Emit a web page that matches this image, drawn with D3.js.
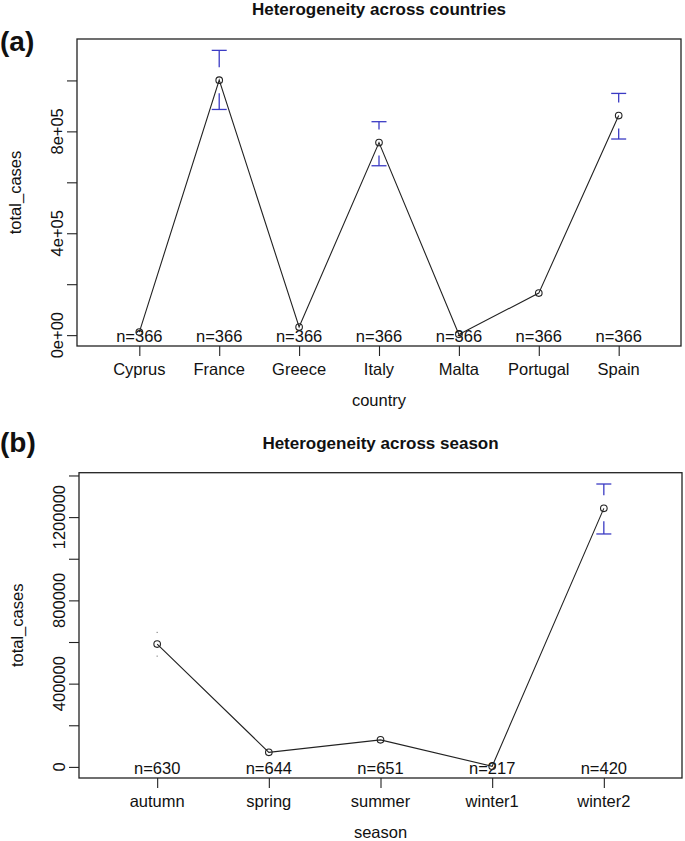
<!DOCTYPE html>
<html>
<head>
<meta charset="utf-8">
<script src="https://cdn.jsdelivr.net/npm/d3@7"></script>
<style>
  html, body { margin: 0; padding: 0; background: #fff; }
  svg { display: block; }
  text { font-family: "Liberation Sans", Arial, sans-serif; fill: #111; }
</style>
</head>
<body>
<script>
// ---------- data ----------
const countries = ["Cyprus", "France", "Greece", "Italy", "Malta", "Portugal", "Spain"];
const countryMeans = [12000, 1001000, 32000, 756000, 3000, 165000, 862000];
const countryLower = [9000, 886000, 28000, 665000, 2000, 152000, 770000];
const countryUpper = [15000, 1118000, 36000, 838000, 4000, 178000, 949000];
const countryN = [366, 366, 366, 366, 366, 366, 366];
const countryTicks = [0, 200000, 400000, 600000, 800000, 1000000];
const countryTickLabelValues = [0, 400000, 800000];
const countryTickLabels = ["0e+00", "4e+05", "8e+05"];

const seasons = ["autumn", "spring", "summer", "winter1", "winter2"];
const seasonMeans = [590000, 70000, 130000, 3000, 1242000];
const seasonLower = [532000, 64000, 122000, 1000, 1119000];
const seasonUpper = [646000, 76000, 138000, 5000, 1359000];
const seasonN = [630, 644, 651, 217, 420];
const seasonTicks = [0, 200000, 400000, 600000, 800000, 1000000, 1200000, 1400000];
const seasonTickLabelValues = [0, 400000, 800000, 1200000];
const seasonTickLabels = ["0", "400000", "800000", "1200000"];

// ---------- drawing ----------
const svg = d3.select("body").append("svg").attr("width", 685).attr("height", 841);

function panel(cfg) {
  const n = cfg.cats.length;
  const ext = 0.04 * n;
  const x = d3.scaleLinear().domain([0.5 - ext, n + 0.5 + ext]).range([cfg.left, cfg.right]);
  const ymin = d3.min(cfg.lower), ymax = d3.max(cfg.upper);
  const yext = 0.04 * (ymax - ymin);
  const y = d3.scaleLinear().domain([ymin - yext, ymax + yext]).range([cfg.bottom, cfg.top]);
  const g = svg.append("g");
  const cx = (cfg.left + cfg.right) / 2;

  // panel label & title
  g.append("text").attr("x", 0).attr("y", cfg.tagY).attr("font-size", 28).attr("font-weight", "bold").text(cfg.tag);
  g.append("text").attr("x", cx).attr("y", cfg.top - 24).attr("text-anchor", "middle")
    .attr("font-size", 17).attr("font-weight", "bold").text(cfg.title);

  // box
  g.append("rect").attr("x", cfg.left).attr("y", cfg.top)
    .attr("width", cfg.right - cfg.left).attr("height", cfg.bottom - cfg.top)
    .attr("fill", "none").attr("stroke", "#222").attr("stroke-width", 1.3);

  // y axis
  const yAxis = d3.axisLeft(y).tickValues(cfg.yTicks).tickSize(10).tickFormat("");
  const ya = g.append("g").attr("transform", `translate(${cfg.left},0)`).call(yAxis);
  ya.select(".domain").remove();
  ya.selectAll("line").attr("stroke", "#222").attr("stroke-width", 1.1);
  g.selectAll(null).data(cfg.yLabelValues).enter().append("text")
    .attr("transform", (d) => `translate(${cfg.left - 14},${y(d)}) rotate(-90)`)
    .attr("text-anchor", "middle").attr("font-size", 16.5)
    .text((d, i) => cfg.yLabels[i]);
  g.append("text")
    .attr("transform", `translate(${cfg.left - 56},${(cfg.top + cfg.bottom) / 2}) rotate(-90)`)
    .attr("text-anchor", "middle").attr("font-size", 16.5).text("total_cases");

  // x axis
  const xAxis = d3.axisBottom(x).tickValues(d3.range(1, n + 1)).tickSize(10).tickFormat("");
  const xa = g.append("g").attr("transform", `translate(0,${cfg.bottom})`).call(xAxis);
  xa.select(".domain").remove();
  xa.selectAll("line").attr("stroke", "#222").attr("stroke-width", 1.1);
  g.selectAll(null).data(cfg.cats).enter().append("text")
    .attr("x", (d, i) => x(i + 1)).attr("y", cfg.bottom + 29)
    .attr("text-anchor", "middle").attr("font-size", 16.5).text((d) => d);
  g.append("text").attr("x", cx).attr("y", cfg.bottom + 60)
    .attr("text-anchor", "middle").attr("font-size", 16.5).text(cfg.xTitle);

  // n labels
  g.selectAll(null).data(cfg.nvals).enter().append("text")
    .attr("x", (d, i) => x(i + 1)).attr("y", cfg.bottom - 4)
    .attr("text-anchor", "middle").attr("font-size", 16.5).text((d) => "n=" + d);

  // line
  const line = d3.line().x((d, i) => x(i + 1)).y((d) => y(d));
  g.append("path").datum(cfg.means).attr("d", line)
    .attr("fill", "none").attr("stroke", "#222").attr("stroke-width", 1.1);

  // points
  g.selectAll(null).data(cfg.means).enter().append("circle")
    .attr("cx", (d, i) => x(i + 1)).attr("cy", (d) => y(d)).attr("r", 3.3)
    .attr("fill", "none").attr("stroke", "#222").attr("stroke-width", 1.1);

  // CI bars (R plotCI style with a gap around the point)
  const gap = 13, cap = 7.5, blue = "#3b3bc4";
  cfg.means.forEach((m, i) => {
    const px = x(i + 1), py = y(m);
    const yu = y(cfg.upper[i]), yl = y(cfg.lower[i]);
    if (py - yu > gap) {
      g.append("line").attr("x1", px).attr("x2", px).attr("y1", py - gap).attr("y2", yu).attr("stroke", blue).attr("stroke-width", 1.3);
      g.append("line").attr("x1", px - cap).attr("x2", px + cap).attr("y1", yu).attr("y2", yu).attr("stroke", blue).attr("stroke-width", 1.3);
    } else if (py - yu > 6) {
      g.append("rect").attr("x", px - 0.6).attr("y", yu - 0.6).attr("width", 1.2).attr("height", 1.2).attr("fill", "#888");
    }
    if (yl - py > gap) {
      g.append("line").attr("x1", px).attr("x2", px).attr("y1", py + gap).attr("y2", yl).attr("stroke", blue).attr("stroke-width", 1.3);
      g.append("line").attr("x1", px - cap).attr("x2", px + cap).attr("y1", yl).attr("y2", yl).attr("stroke", blue).attr("stroke-width", 1.3);
    } else if (yl - py > 6) {
      g.append("rect").attr("x", px - 0.6).attr("y", yl - 0.6).attr("width", 1.2).attr("height", 1.2).attr("fill", "#888");
    }
  });
}

panel({
  tag: "(a)", tagY: 51, title: "Heterogeneity across countries", xTitle: "country",
  cats: countries, means: countryMeans, lower: countryLower, upper: countryUpper, nvals: countryN,
  yTicks: countryTicks, yLabelValues: countryTickLabelValues, yLabels: countryTickLabels,
  left: 77, right: 681, top: 39, bottom: 346
});

panel({
  tag: "(b)", tagY: 452, title: "Heterogeneity across season", xTitle: "season",
  cats: seasons, means: seasonMeans, lower: seasonLower, upper: seasonUpper, nvals: seasonN,
  yTicks: seasonTicks, yLabelValues: seasonTickLabelValues, yLabels: seasonTickLabels,
  left: 79, right: 682, top: 472.7, bottom: 778
});
</script>
</body>
</html>
